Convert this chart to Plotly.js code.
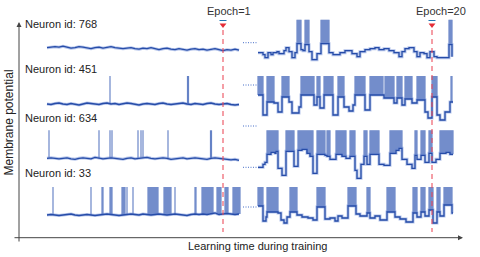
<!DOCTYPE html>
<html><head><meta charset="utf-8">
<script src="https://cdn.plot.ly/plotly-3.0.1.min.js"></script>
<style>html,body{margin:0;padding:0;background:#fff;}#chart{width:480px;height:257px;}</style>
</head><body><div id="chart"></div>
<script>
// ---------------- data (membrane potential, a.u.; resting level = 0) ----------------
const neuronIds = ['768', '451', '634', '33'];
const THRESHOLD = 28;           // spike peak level
const leftStep = 4;             // sampling step of the epoch-1 traces (time steps)

// Epoch 1 segment: sampled potential
const row1Left = [0,0.5,1,0.5,1.5,0.5,-0.5,0,1,0.5,0,-1,0,0.5,-0.5,0,1,0,-0.5,-1,-0.5,0,-1,-1.5,-0.5,-1,0,-1,-2,-1,-0.5,-1.5,-2,-1,-1.5,-2.5,-1.5,-1,-2,-1.5,-2.5,-2,-1,-2,-3,-2,-2.5,-1.5,-2.5];
const row2Left = [0,-0.5,0.5,1,0,-0.5,0.5,0,-1,0,1,0.5,0,-0.5,0.5,1,0,0.5,-0.5,0,1,0.5,-0.5,-1,0,0.5,0,-0.5,0.5,1,0,-0.5,0,0.5,1,0,-0.5,0.5,0,-0.5,0.5,1,0,-0.5,0,0.5,-0.5,-1,-0.5];
const row3Left = [0,0.5,0,-0.5,0,0.5,-0.5,-1,0,0.5,0,-0.5,1,0,-0.5,0,0.5,0,-0.5,-1,0,0.5,-0.5,0,0.5,1,0,-0.5,0,0.5,0,-1,-0.5,0,0.5,-0.5,0,0.5,0,-0.5,-1,0,0.5,0,-0.5,-1,-1.5,-1,-2];
const row4Left = [0,0.5,0,-0.5,0,0.5,1,0,-0.5,0,0.5,0,-0.5,0,0.5,1,0.5,0,-0.5,0,0.5,1,0.5,0,1,0.5,0,0.5,1,0.5,0,0.5,1,0.5,0,-0.5,0.5,1,0.5,1,0.5,1.5,2,0.5,1,1.5,1,0.5,1];

// Epoch 1 spikes: [start, end] time steps
const row1LeftSpikes = [];
const row2LeftSpikes = [[63,63],[140.5,142]];
const row3LeftSpikes = [[2,2],[52,52],[63,63],[65,65],[91,91],[94,94],[96,96],[121,121],[163.5,165]];
const row4LeftSpikes = [[6,6],[44,44],[55,56],[63,65],[75,78],[80,80],[86,86],[101,111],[117,124],[128,128],[148,149],[155,166],[170,174],[178,181],[186,193]];

// Epoch 20 segment: step-wise potential (time steps, values)
const row1RightT = [0,5,7,10,13,15,19,21,26,28,31,34,37,39,43,45,47,51,54,59,63,71,75,82,87,94,99,102,107,112,117,121,126,131,136,141,144,147,151,156,159,162,166,169,172,176,179,191,194];
const row1RightV = [-5,-7,-10,-5,-7,-5,-4,-6,-3,0,-4,-10,-5,4,-2,-3,3,-4,-12,-6,4,-5,-7,-5,-3,-6,-9,-4,-2,-1,0,-2,-1,-3,-5,-9,-4,-1,0,-4,-9,-5,-6,-10,-4,-9,-10,3,-9];
const row1RightBursts = [[39,43],[47,51],[63,71],[191,194]];

const row2RightT = [0,5,9,16,20,24,31,34,41,43,56,59,62,66,75,80,86,91,95,97,107,112,126,127,136,139,144,147,154,159,167,170,174,179,182,187,192,195];
const row2RightV = [9,-11,2,1,-8,7,2,-9,-3,9,-1,7,-4,9,-11,7,-3,-7,-1,9,-6,9,6,6,1,6,-1,5,1,4,-8,-14,7,-11,-16,-8,2,2];
const row2RightBursts = [[0,5],[9,16],[24,31],[43,56],[59,62],[66,75],[80,86],[97,107],[112,125],[127,136],[139,144],[147,154],[159,167],[174,179],[193,194]];

const row3RightT = [0,5,7,9,13,17,18,20,24,28,36,40,44,49,52,55,59,67,69,72,78,84,88,92,97,99,103,106,109,112,121,126,132,138,141,144,149,154,157,159,163,167,171,174,178,182,188,192,195];
const row3RightV = [-9,-6,-4,4,6,5,7,-10,-17,7,-8,8,9,5,2,-15,4,3,2,-1,4,2,0,2,-12,-20,-6,2,-6,4,-6,-7,5,8,10,-1,-6,-10,3,-1,3,-4,5,-4,-1,5,6,4,4];
const row3RightBursts = [[9,20],[28,36],[40,55],[59,67],[69,72],[78,88],[92,97],[106,109],[112,121],[132,144],[157,159],[163,167],[171,174],[182,195]];

const row4RightT = [0,5,8,9,20,23,26,29,32,39,44,50,55,59,67,72,77,80,84,90,98,102,109,112,117,122,129,137,142,148,155,159,163,167,171,175,179,182,186,194,195];
const row4RightV = [9,-6,-2,3,2,-5,-8,-2,3,0,-2,-3,-5,8,-4,-3,-6,-1,-3,9,1,-1,2,-3,-1,-5,3,-2,-4,-7,2,-2,3,-1,5,-8,3,-1,10,2,2];
const row4RightBursts = [[0,5],[9,20],[32,39],[59,67],[90,98],[109,112],[129,137],[155,159],[163,167],[171,175],[179,182],[186,194]];

// continuation marks between the two segments: row index, level
const gapRows = [0, 1, 1, 2, 3];
const gapLevels = [5, 19, -22, -9, 8];

// epoch markers
const epochLabels = ['Epoch=1', 'Epoch=20'];
const epochSegment = [0, 1];
const epochTimes = [176, 174];

// ---------------- geometry / styles ----------------
const FONT = 'Arial, "Liberation Sans", sans-serif';
const segOffset = [0, 211];
const baselinePx = [47.7, 104, 158.3, 215];
const rowOffset = baselinePx.map(b => 215 - b);
const xPx = p => p - 47;
const yPx = p => 215 - p;

const leftRows = [row1Left, row2Left, row3Left, row4Left];
const leftSpikes = [row1LeftSpikes, row2LeftSpikes, row3LeftSpikes, row4LeftSpikes];
const rightT = [row1RightT, row2RightT, row3RightT, row4RightT];
const rightV = [row1RightV, row2RightV, row3RightV, row4RightV];
const rightBursts = [row1RightBursts, row2RightBursts, row3RightBursts, row4RightBursts];

const TRACE_COLOR = 'rgb(38,76,168)';
const HALO_COLOR = 'rgba(110,140,215,0.5)';
const SPIKE_COLOR = 'rgba(48,88,178,0.72)';

function leftVal(arr, t) { const i = Math.min(arr.length - 1, Math.max(0, Math.round(t / leftStep))); return arr[i]; }
function stepVal(T, V, t) { let v = V[0]; for (let i = 0; i < T.length; i++) { if (T[i] <= t) v = V[i]; else break; } return v; }

function burstTrace(bursts, valFn, xoff, yoff) {
  const x = [], y = [];
  bursts.forEach(([a, b]) => {
    for (let t = a; t <= b + 1e-9; t += 1) {
      const tt = (b > a && t >= b) ? b - 0.01 : t;
      x.push(xoff + t, xoff + t, null);
      y.push(yoff + valFn(tt), yoff + THRESHOLD, null);
    }
  });
  return { x, y, mode: 'lines', line: { color: SPIKE_COLOR, width: 1.2 }, hoverinfo: 'skip', showlegend: false };
}

const traces = [];
for (let r = 0; r < 4; r++) {
  const off = rowOffset[r];
  // epoch 1
  const lv = leftRows[r];
  const lx = lv.map((_, i) => segOffset[0] + i * leftStep);
  const ly = lv.map(v => v + off);
  traces.push(burstTrace(leftSpikes[r], t => leftVal(lv, t), segOffset[0], off));
  traces.push({ x: lx, y: ly, mode: 'lines', line: { color: HALO_COLOR, width: 3 }, showlegend: false, hoverinfo: 'skip' });
  traces.push({ x: lx, y: ly, mode: 'lines', line: { color: TRACE_COLOR, width: 1.3 }, showlegend: false, name: 'Neuron ' + neuronIds[r] });
  // epoch 20
  const T = rightT[r], V = rightV[r];
  const rx = T.map(t => segOffset[1] + t);
  const ry = V.map(v => v + off);
  traces.push(burstTrace(rightBursts[r], t => stepVal(T, V, t), segOffset[1], off));
  traces.push({ x: rx, y: ry, mode: 'lines', line: { color: HALO_COLOR, width: 3, shape: 'hv' }, showlegend: false, hoverinfo: 'skip' });
  traces.push({ x: rx, y: ry, mode: 'lines', line: { color: TRACE_COLOR, width: 1.3, shape: 'hv' }, showlegend: false, name: 'Neuron ' + neuronIds[r] });
}

// continuation dots
gapRows.forEach((r, k) => {
  traces.push({ x: [xPx(243), xPx(257)], y: [rowOffset[r] + gapLevels[k], rowOffset[r] + gapLevels[k]],
    mode: 'lines', line: { color: 'rgb(70,110,200)', width: 1, dash: '1px,1.5px' }, showlegend: false, hoverinfo: 'skip' });
});

// epoch arrows
const epochX = epochTimes.map((t, i) => segOffset[epochSegment[i]] + t);
traces.push({ x: epochX, y: epochX.map(() => yPx(25)), mode: 'markers',
  marker: { symbol: 'triangle-down', size: 6, color: 'rgb(228,45,55)' }, showlegend: false, hoverinfo: 'skip' });
traces.push({ x: epochX, y: epochX.map(() => yPx(20.5)), mode: 'markers',
  marker: { symbol: 'line-ew-open', size: 5, line: { color: 'rgb(228,45,55)', width: 1 } }, showlegend: false, hoverinfo: 'skip' });

const shapes = epochX.map(x => ({ type: 'line', xref: 'x', yref: 'y', x0: x, x1: x, y0: yPx(30), y1: yPx(232),
  line: { color: 'rgba(235,70,85,0.8)', width: 1.3, dash: '5px,4px' } }));

const annotations = [];
const labelY = [24, 69.3, 118.3, 173.3];
neuronIds.forEach((id, r) => {
  annotations.push({ x: xPx(23), y: yPx(labelY[r]), xref: 'x', yref: 'y', xanchor: 'left', yanchor: 'middle',
    text: 'Neuron id: ' + id, showarrow: false, font: { family: FONT, size: 11, color: '#222' } });
});
epochLabels.forEach((lab, i) => {
  annotations.push({ x: epochX[i], y: yPx(10.7), xref: 'x', yref: 'y', xanchor: 'left', yanchor: 'middle', xshift: -18,
    text: lab, showarrow: false, font: { family: FONT, size: 11, color: '#333' } });
});
// axes with arrows
annotations.push({ x: xPx(19), y: yPx(22), ax: xPx(19), ay: yPx(243), xref: 'x', yref: 'y', axref: 'x', ayref: 'y',
  text: '', showarrow: true, arrowhead: 2, arrowsize: 1, arrowwidth: 1, arrowcolor: '#444' });
annotations.push({ x: xPx(463), y: yPx(237.7), ax: xPx(13), ay: yPx(237.7), xref: 'x', yref: 'y', axref: 'x', ayref: 'y',
  text: '', showarrow: true, arrowhead: 2, arrowsize: 1, arrowwidth: 1, arrowcolor: '#444' });
annotations.push({ x: xPx(257.5), y: yPx(245.7), xref: 'x', yref: 'y', xanchor: 'center', yanchor: 'middle',
  text: 'Learning time during training', showarrow: false, font: { family: FONT, size: 11, color: '#222' } });
annotations.push({ x: xPx(8), y: yPx(122.5), xref: 'x', yref: 'y', xanchor: 'center', yanchor: 'middle', textangle: -90,
  text: 'Membrane potential', showarrow: false, font: { family: FONT, size: 12, color: '#222' } });

const layout = {
  width: 480, height: 257, margin: { l: 0, r: 0, t: 0, b: 0 },
  paper_bgcolor: '#fff', plot_bgcolor: '#fff', showlegend: false,
  xaxis: { range: [xPx(0), xPx(480)], visible: false, fixedrange: true },
  yaxis: { range: [yPx(257), yPx(0)], visible: false, fixedrange: true },
  shapes, annotations
};
Plotly.newPlot('chart', traces, layout, { staticPlot: true, displayModeBar: false });
</script>
</body></html>
